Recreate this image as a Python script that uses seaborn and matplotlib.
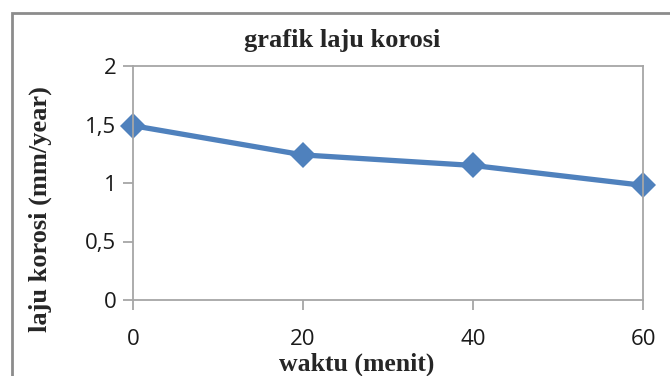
import numpy as np
import pandas as pd
import seaborn as sns
import matplotlib.pyplot as plt
from matplotlib.patches import Rectangle

# data
waktu = [0, 20, 40, 60]
laju_korosi = [1.49, 1.24, 1.15, 0.98]
y_ticks = [0, 0.5, 1, 1.5, 2]
y_tick_labels = ["0", "0,5", "1", "1,5", "2"]
x_ticks = [0, 20, 40, 60]

df = pd.DataFrame({"waktu": waktu, "laju": laju_korosi})

sns.set_theme(style="white")
plt.rcParams['font.family'] = ['Open Sans', 'DejaVu Sans']

fig = plt.figure(figsize=(6.7, 3.76), dpi=100)
ax = fig.add_axes([133 / 670, 1 - 300 / 376, (643 - 133) / 670, (300 - 66) / 376])

sns.lineplot(data=df, x="waktu", y="laju", ax=ax, color="#4F81BD",
             linewidth=3.8, marker="D", markersize=13, markeredgewidth=0,
             clip_on=False)

ax.set_xlim(0, 60)
ax.set_ylim(0, 2)
ax.set_xticks(x_ticks)
ax.set_yticks(y_ticks)
ax.set_yticklabels(y_tick_labels)

for side in ["left", "bottom", "top", "right"]:
    ax.spines[side].set_color("#a6a6a6")
    ax.spines[side].set_linewidth(1.3)

ax.tick_params(axis="both", direction="out", length=7, width=1.3, color="#a6a6a6",
               labelsize=16, labelcolor="#1a1a1a")
ax.tick_params(axis="x", pad=14, bottom=True)
ax.tick_params(axis="y", pad=5, left=True)
ax.set_xlabel("")
ax.set_ylabel("")

serif = ['Liberation Serif', 'DejaVu Serif']
fig.text(342 / 670, 1 - 40 / 376, "grafik laju korosi", ha="center", va="center",
         fontsize=19, fontweight="bold", family=serif)
fig.text(357 / 670, 1 - 364 / 376, "waktu (menit)", ha="center", va="center",
         fontsize=18.5, fontweight="bold", family=serif)
fig.text(40 / 670, 1 - 209 / 376, "laju korosi (mm/year)", ha="center", va="center",
         rotation=90, fontsize=19, fontweight="bold", family=serif)

# outer chart frame (cropped at right and bottom)
fig.patches.append(Rectangle((12.5 / 670, -0.2), 1.2, 1.2 - 13 / 376,
                             transform=fig.transFigure, fill=False,
                             edgecolor="#8c8c8c", linewidth=2))

fig.savefig("out.png", dpi=100)
